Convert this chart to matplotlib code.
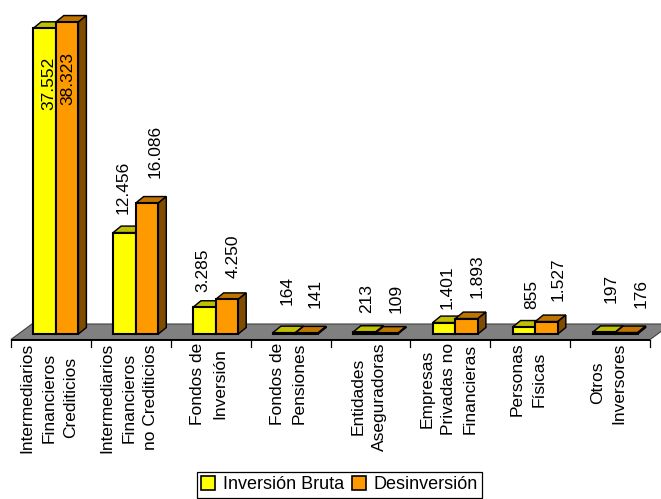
import matplotlib
matplotlib.use("Agg")
import matplotlib.pyplot as plt
from matplotlib.patches import Polygon, Patch

categories = ["Intermediarios\nFinancieros\nCrediticios",
              "Intermediarios\nFinancieros\nno Crediticios",
              "Fondos de\nInversión",
              "Fondos de\nPensiones",
              "Entidades\nAseguradoras",
              "Empresas\nPrivadas no\nFinancieras",
              "Personas\nFísicas",
              "Otros\nInversores"]
inversion_bruta = [37552, 12456, 3285, 164, 213, 1401, 855, 197]
desinversion = [38323, 16086, 4250, 141, 109, 1893, 1527, 176]
series_names = ["Inversión Bruta", "Desinversión"]

# label placement relative to bar centre/top, in pixels
off_a = [(4, -82), (-1, 18.6), (-1, 15), (2.5, 28), (2.5, 19), (3.5, 14), (7.5, 18), (7.5, 29)]
off_b = [(0.5, -83), (8.5, 25), (6.5, 21), (8.5, 25), (9.5, 20), (10.5, 21), (11.5, 20.6), (14.5, 24.6)]

W, H = 661, 499
FONT = "Liberation Sans"
plt.rcParams["font.family"] = FONT
fig = plt.figure(figsize=(W / 100, H / 100), dpi=100)
ax = fig.add_axes([0, 0, 1, 1])
ax.axis("off")

px_cat = 79.9       # pixels per category
x0 = 50.9           # pixel of category 0
y0 = 334.0          # pixel row of value 0
k = 0.00814         # pixels per unit
ax.set_xlim(-x0 / px_cat, (W - x0) / px_cat)
ax.set_ylim(-(H - y0) / k, y0 / k)

X = lambda p: p / px_cat
Y = lambda p: p / k
bw = X(22.6)
shift = X(4.9)
ddx, ddy = X(8), Y(6.5)
lw = 1.5

# floor
n = len(categories)
fl, fr = -0.5, n - 0.5
fb, ft = Y(-5.5), Y(10)
fx = X(21)
ax.add_patch(Polygon([(fl, fb), (fr, fb), (fr + fx, ft), (fl + fx, ft)],
                     closed=True, facecolor="#808080", edgecolor="#404040", lw=0.8, zorder=1))
ax.plot([fl, fr], [fb, fb], color="black", lw=1.4, zorder=2, solid_capstyle="butt")
for i in range(n + 1):
    ax.plot([i - 0.5, i - 0.5], [fb, fb - Y(7)], color="black", lw=0.9, zorder=2)


def bar3d(x, v, face, top, side, z):
    left = x - bw / 2
    ax.bar(x, v, width=bw, color=face, edgecolor="black", linewidth=lw, zorder=z + 0.2)
    ax.add_patch(Polygon([(left, v), (left + bw, v), (left + bw + ddx, v + ddy), (left + ddx, v + ddy)],
                         closed=True, facecolor=top, edgecolor="black", lw=lw * 0.7, zorder=z))
    ax.add_patch(Polygon([(left + bw, 0), (left + bw + ddx, ddy), (left + bw + ddx, v + ddy), (left + bw, v)],
                         closed=True, facecolor=side, edgecolor="black", lw=lw * 0.7, zorder=z))


for i in range(n):
    xa = i + shift - bw / 2
    xb = i + shift + bw / 2
    bar3d(xa, inversion_bruta[i], "#FFFF00", "#C0C000", "#808000", 3 + i)
    bar3d(xb, desinversion[i], "#FF9900", "#BF7300", "#7F4C00", 3.5 + i)
    for x, v, off in ((xa, inversion_bruta[i], off_a[i]), (xb, desinversion[i], off_b[i])):
        ax.annotate(f"{v:,}".replace(",", "."), xy=(x, v),
                    xytext=(off[0] * 0.72, off[1] * 0.72), textcoords="offset points",
                    rotation=90, ha="center", va="bottom", fontsize=12.5, color="black", zorder=20)
    ax.text(i - X(2), fb - Y(3), categories[i], rotation=90, ha="center", va="top",
            multialignment="center", fontsize=12.5, linespacing=1.55, color="black", zorder=20)

handles = [Patch(facecolor="#FFFF00", edgecolor="black", lw=1.2),
           Patch(facecolor="#FF9900", edgecolor="black", lw=1.2)]
leg = ax.legend(handles, series_names, loc="lower left",
                bbox_to_anchor=(196.5 / W, 1 / H), bbox_transform=fig.transFigure,
                ncol=2, fontsize=13, frameon=True, fancybox=False, framealpha=1,
                edgecolor="black", borderpad=0.25, borderaxespad=0, handlelength=0.8,
                handleheight=0.8, handletextpad=0.4, columnspacing=0.45)
leg.get_frame().set_linewidth(0.9)
leg.set_zorder(30)
fig.savefig("out.png", dpi=100, facecolor="white")
